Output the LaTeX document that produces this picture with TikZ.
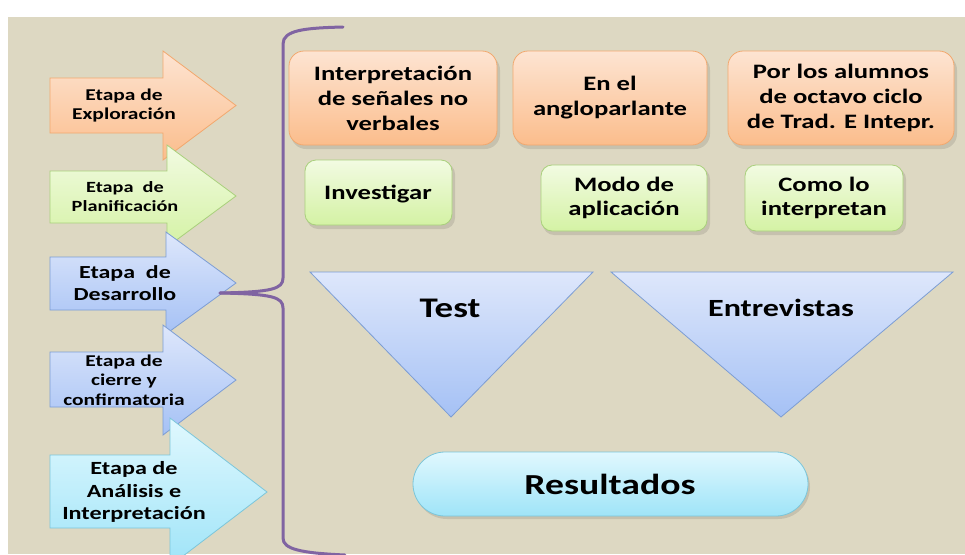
\documentclass[tikz,border=0pt]{standalone}
\usepackage{fontspec}
\newfontfamily\calf[FakeStretch=1.3]{Carlito}
\newcommand{\fsz}[2]{\fontsize{#1}{#2}\selectfont}
\definecolor{bgtan}{HTML}{DDD8C2}
\definecolor{orT}{HTML}{FDE4D2}
\definecolor{orB}{HTML}{FBBD8C}
\definecolor{orD}{HTML}{F2A86E}
\definecolor{grT}{HTML}{F2FBE2}
\definecolor{grB}{HTML}{D4F2A4}
\definecolor{grD}{HTML}{A9D07C}
\definecolor{blT}{HTML}{DEE7FB}
\definecolor{blB}{HTML}{A5C1F5}
\definecolor{blD}{HTML}{7C9DD4}
\definecolor{cyT}{HTML}{E0F8FE}
\definecolor{cyB}{HTML}{9FE4F8}
\definecolor{cyD}{HTML}{7CC6DA}
\definecolor{brace}{HTML}{8064A2}
\tikzset{
  lbl/.style={align=center, inner sep=0pt, text=black},
  fs/.style 2 args={font=\calf\bfseries\fsz{#1}{#2}},
  orsh/.style={top color=orT, bottom color=orB, draw=orD, line width=0.8pt},
  grsh/.style={top color=grT, bottom color=grB, draw=grD, line width=0.8pt},
  blsh/.style={top color=blT, bottom color=blB, draw=blD, line width=0.8pt},
  cysh/.style={top color=cyT, bottom color=cyB, draw=cyD, line width=0.8pt},
  shad/.style={fill=black, opacity=0.10},
}
\begin{document}
\begin{tikzpicture}[x=1pt, y=-1pt]
\useasboundingbox (0,0) rectangle (965,554);
\fill[white] (0,0) rectangle (965,554);
\fill[bgtan] (8,17) rectangle (965,554);

% left arrows
\shade[orsh] (50,78) -- (163,78) -- (163,51) -- (236,105.5) -- (163,160) -- (163,133) -- (50,133) -- cycle;
\shade[grsh] (50,171) -- (167,171) -- (167,145) -- (236,196) -- (167,247) -- (167,223) -- (50,223) -- cycle;
\shade[blsh] (50,257) -- (166,257) -- (166,232) -- (236,283) -- (166,334) -- (166,310) -- (50,310) -- cycle;
\shade[blsh] (50,352) -- (163,352) -- (163,325) -- (236,380) -- (163,435) -- (163,407) -- (50,407) -- cycle;
\shade[cysh] (50,455) -- (170,455) -- (170,418) -- (267,492) -- (170,566) -- (170,528) -- (50,528) -- cycle;

\node[lbl, fs={16.5}{19}] (t1) at (124,105.5) {Etapa de\\Exploración};
\node[lbl, fs={15.6}{19}] (t2) at (125,196.5) {Etapa\ \ de\\Planificación};
\node[lbl, fs={18.4}{22}] (t3) at (125,283) {Etapa\ \ de\\Desarrollo};
\node[lbl, fs={16.5}{19.5}] (t4) at (124,380) {Etapa de\\cierre y\\confirmatoria};
\node[lbl, fs={18.6}{22.5}] (t5) at (134,492) {Etapa de\\Análisis e\\Interpretación};

% brace
\draw[brace, line width=3pt, line cap=round]
  (343,27) .. controls (305,28) and (283,30) .. (283,44) -- (283,278)
  .. controls (283,289) and (272,292) .. (220,293);
\draw[brace, line width=3pt, line cap=round]
  (220,293) .. controls (272,294) and (283,297) .. (283,308) -- (283,538)
  .. controls (283,549) and (300,553) .. (345,555);

% shadows
\fill[shad, rounded corners=15pt] (291,55) rectangle (500,149);
\fill[shad, rounded corners=15pt] (515,55) rectangle (710,149);
\fill[shad, rounded corners=15pt] (730,55) rectangle (957,149);
\fill[shad, rounded corners=11pt] (307,163) rectangle (455,229);
\fill[shad, rounded corners=11pt] (543,168) rectangle (710,235);
\fill[shad, rounded corners=11pt] (747,168) rectangle (906,235);

% orange boxes
\shade[orsh, rounded corners=15pt] (289,51) rectangle (497,145);
\shade[orsh, rounded corners=15pt] (513,51) rectangle (707,145);
\shade[orsh, rounded corners=15pt] (728,51) rectangle (954,145);
\node[lbl, fs={20.5}{25}] (o1) at (393,98) {Interpretación\\de señales no\\verbales};
\node[lbl, fs={20.5}{25}] (o2) at (610,98) {En el\\angloparlante};
\node[lbl, fs={20.5}{25}] (o3) at (841,98) {Por los alumnos\\de octavo ciclo\\de Trad. E Intepr.};

% green boxes
\shade[grsh, rounded corners=11pt] (305,160) rectangle (452,225);
\shade[grsh, rounded corners=11pt] (541,165) rectangle (707,231);
\shade[grsh, rounded corners=11pt] (745,165) rectangle (903,231);
\node[lbl, fs={20.5}{24}] (g1) at (378,194) {Investigar};
\node[lbl, fs={20.5}{24}] (g2) at (624,198) {Modo de\\aplicación};
\node[lbl, fs={20.5}{24}] (g3) at (824,198) {Como lo\\interpretan};

% triangles
\shade[blsh] (310,272) -- (593,272) -- (451,417) -- cycle;
\shade[blsh] (611,272) -- (953,272) -- (781,417) -- cycle;
\node[lbl, fs={28.4}{32}] (tt) at (450,308) {Test};
\node[lbl, fs={24.7}{28}] (te) at (781,308) {Entrevistas};

% resultados
\fill[shad, rounded corners=32pt] (415,455) rectangle (810,519);
\shade[cysh, rounded corners=32pt] (413,452) rectangle (808,516);
\node[lbl, fs={29}{32}] (r) at (610,484) {Resultados};
\end{tikzpicture}
\end{document}
